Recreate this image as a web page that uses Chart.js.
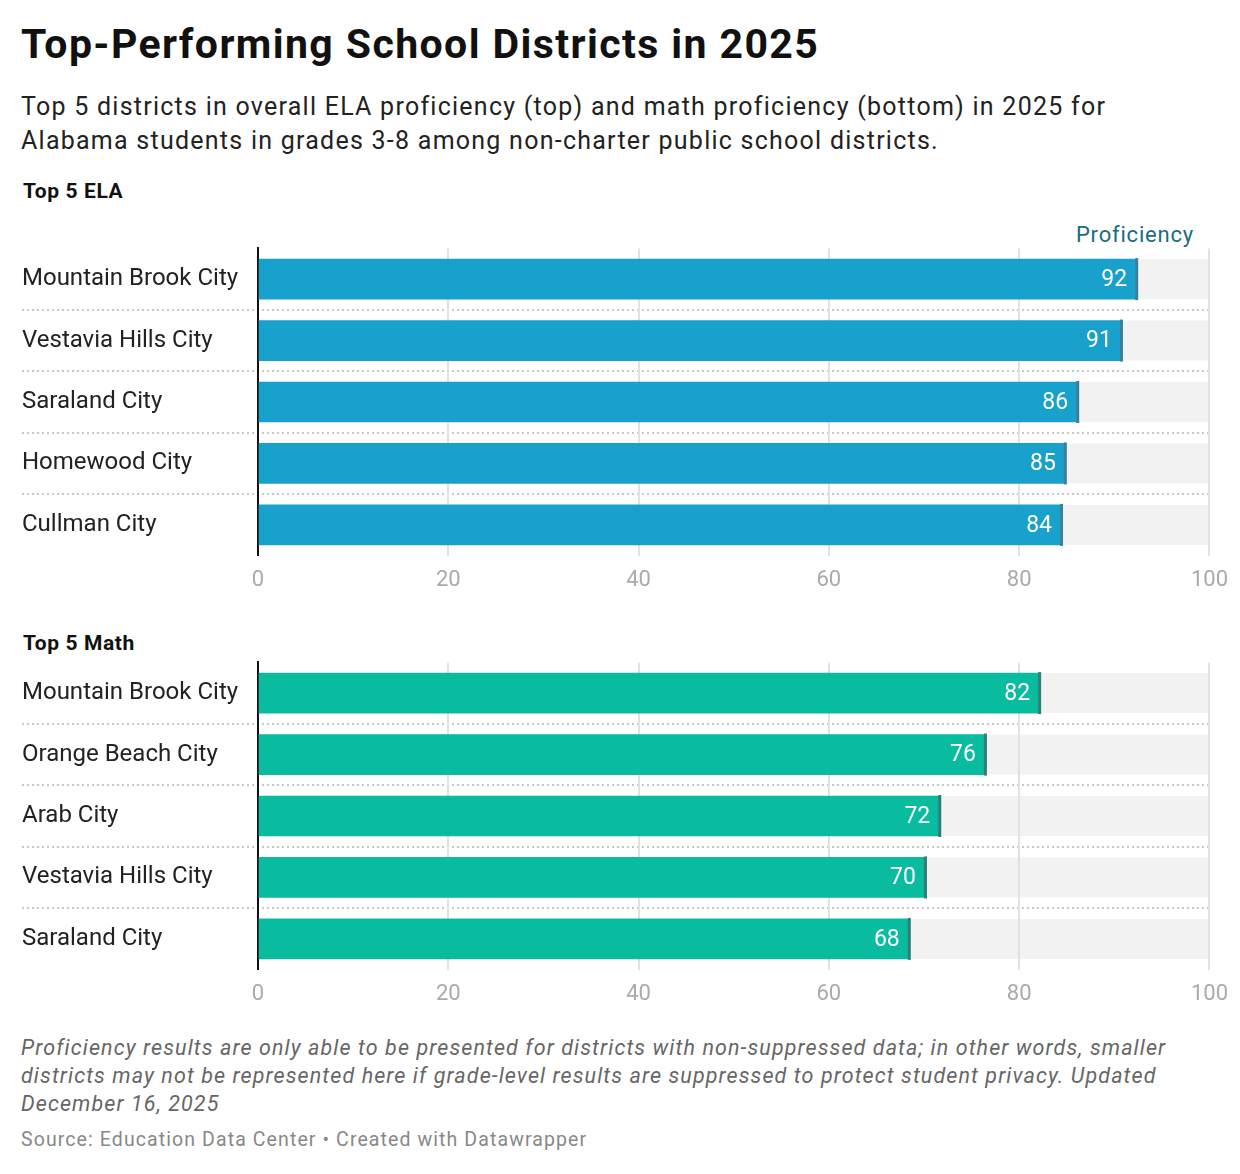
<!DOCTYPE html>
<html>
<head>
<meta charset="utf-8">
<script src="https://cdn.jsdelivr.net/npm/chart.js@4"></script>
<style>
  body { margin: 0; width: 1240px; height: 1174px; background: #fff; font-family: Roboto, sans-serif; position: relative; overflow: hidden; }
  .t { position: absolute; left: 21px; white-space: nowrap; }
  #title { top: 20px; font-size: 41px; font-weight: 700; color: #111; letter-spacing: 1.4px; }
  #sub { top: 90px; font-size: 25px; line-height: 34px; color: #222; letter-spacing: 1.25px; }
  .sec { font-size: 21px; font-weight: 700; color: #111; left: 23px; letter-spacing: 0.6px; }
  #note { top: 1034px; font-size: 21.5px; line-height: 28px; font-style: italic; color: #666; letter-spacing: 1.1px; }
  #src { top: 1128px; font-size: 19.5px; color: #888; letter-spacing: 1.1px; }
  #prof { position: absolute; right: 46px; top: 222px; font-size: 22px; color: #1b6b85; letter-spacing: 0.8px; }
  canvas { position: absolute; left: 0; }
</style>
</head>
<body>
<div class="t" id="title">Top-Performing School Districts in 2025</div>
<div class="t" id="sub">Top 5 districts in overall ELA proficiency (top) and math proficiency (bottom) in 2025 for<br>Alabama students in grades 3-8 among non-charter public school districts.</div>
<div class="t sec" style="top:179px">Top 5 ELA</div>
<div id="prof">Proficiency</div>
<div class="t sec" style="top:631px">Top 5 Math</div>
<div style="position:absolute;left:0;top:231px;width:1240px;height:375px"><canvas id="ela"></canvas></div>
<div style="position:absolute;left:0;top:645px;width:1240px;height:375px"><canvas id="math"></canvas></div>
<div class="t" id="note">Proficiency results are only able to be presented for districts with non-suppressed data; in other words, smaller<br>districts may not be represented here if grade-level results are suppressed to protect student privacy. Updated<br>December 16, 2025</div>
<div class="t" id="src">Source: Education Data Center • Created with Datawrapper</div>
<script>
const elaDistricts = ['Mountain Brook City', 'Vestavia Hills City', 'Saraland City', 'Homewood City', 'Cullman City'];
const elaValues = [92.3, 90.7, 86.1, 84.8, 84.4];
const mathDistricts = ['Mountain Brook City', 'Orange Beach City', 'Arab City', 'Vestavia Hills City', 'Saraland City'];
const mathValues = [82.1, 76.4, 71.6, 70.1, 68.4];
const xTicks = [0, 20, 40, 60, 80, 100];

// grey tracks behind grid, dotted separators, end markers and value labels
const decor = {
  id: 'decor',
  beforeDraw(chart) {
    const { ctx, scales: { x, y } } = chart;
    ctx.save();
    ctx.fillStyle = '#f2f2f2';
    chart.data.labels.forEach((l, i) => {
      const cy = y.getPixelForValue(i);
      ctx.fillRect(x.getPixelForValue(0), cy - 20, x.getPixelForValue(100) - x.getPixelForValue(0), 40);
    });
    ctx.strokeStyle = '#c8c8c8';
    ctx.lineWidth = 2;
    ctx.setLineDash([2, 3]);
    for (let i = 0; i < chart.data.labels.length - 1; i++) {
      const yy = Math.round((y.getPixelForValue(i) + y.getPixelForValue(i + 1)) / 2);
      ctx.beginPath(); ctx.moveTo(22, yy); ctx.lineTo(x.right, yy); ctx.stroke();
    }
    ctx.restore();
  },
  afterDatasetsDraw(chart, args, opts) {
    const { ctx, scales: { x, y } } = chart;
    const vals = chart.data.datasets[0].data;
    ctx.save();
    vals.forEach((v, i) => {
      const px = x.getPixelForValue(v), cy = y.getPixelForValue(i);
      ctx.fillStyle = opts.marker;
      ctx.fillRect(px - 1, cy - 21, 3, 42);
      ctx.fillStyle = '#fff';
      ctx.font = '23px Roboto';
      ctx.textAlign = 'right';
      ctx.textBaseline = 'middle';
      ctx.fillText(Math.round(v), px - 9, cy + 1);
    });
    ctx.restore();
  }
};

function makeChart(id, labels, values, color, marker) {
  return new Chart(document.getElementById(id), {
    type: 'bar',
    data: { labels, datasets: [{ data: values, backgroundColor: color, barThickness: 40 }] },
    plugins: [decor],
    options: {
      indexAxis: 'y',
      responsive: true,
      maintainAspectRatio: false,
      animation: false,
      layout: { padding: { left: 22, right: 14, top: 0, bottom: 0 } },
      plugins: { legend: { display: false }, tooltip: { enabled: false }, decor: { marker } },
      scales: {
        x: {
          min: 0, max: 100,
          afterBuildTicks: s => { s.ticks = xTicks.map(v => ({ value: v })); },
          grid: { color: '#e2e2e2', lineWidth: 2, drawTicks: false },
          border: { display: false },
          ticks: { color: '#aaa', font: { family: 'Roboto', size: 22 }, padding: 12, maxRotation: 0 }
        },
        y: {
          afterFit: s => { s.width = 236; },
          grid: { display: false },
          border: { display: true, color: '#111', width: 2 },
          ticks: { crossAlign: 'far', color: '#222', font: { family: 'Roboto', size: 24 } }
        }
      }
    }
  });
}

makeChart('ela', elaDistricts, elaValues, '#18a1cd', '#3e7f97');
makeChart('math', mathDistricts, mathValues, '#09bb9f', '#337d76');
</script>
</body>
</html>
